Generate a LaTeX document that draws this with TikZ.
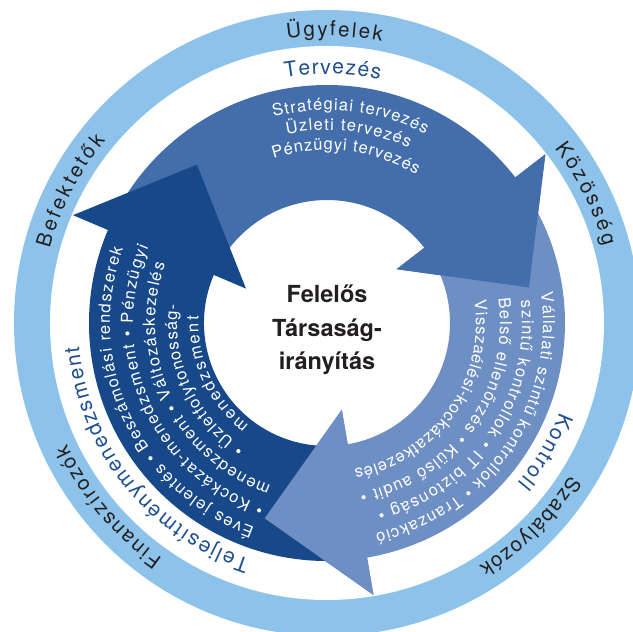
\documentclass[tikz,border=0pt]{standalone}
\usepackage{fontspec}
\setmainfont{TeX Gyre Heros}
\usetikzlibrary{decorations.text}
\definecolor{ringblue}{HTML}{8DC3EA}
\definecolor{topblue}{HTML}{436EAB}
\definecolor{rightblue}{HTML}{6E8FC4}
\definecolor{darkblue}{HTML}{17498A}
\definecolor{labelblue}{HTML}{1D4F91}
\definecolor{inkdark}{HTML}{231F20}
% arrow: #1 tail angle, #2 head base angle, #3 tip angle, #4 style
\newcommand\CycArrow[4]{%
  \fill[#4] (#1:238) arc[start angle=#1, end angle=#2, radius=238]
     -- (#2:276) -- (#3:205) -- (#2:88) -- (#2:123)
     arc[start angle=#2, end angle=#1, radius=123] -- cycle;}
\newcommand\CycHead[3]{\fill[#3] (#1:276) -- (#2:205) -- (#1:88) -- cycle;}
% text on arc: #1 radius, #2 start, #3 end, #4 size, #5 colour, #6 text
\newcommand\ArcText[6]{%
  \path[decorate,decoration={text along path, text align={fit to path},
     text={|\color{#5}\fontsize{#4}{#4}\selectfont|#6}}]
     (#2:#1) arc[start angle=#2, end angle=#3, radius=#1];}
\begin{document}
\begin{tikzpicture}[x=1pt,y=1pt,
  topArrow/.style={fill=topblue},
  rightArrow/.style={fill=rightblue},
  darkArrow/.style={fill=darkblue},
  centertext/.style={font=\bfseries\fontsize{23.5}{23.5}\selectfont, text=inkdark, inner sep=0pt, anchor=base}]
\useasboundingbox (-327,-309) rectangle (306,323);
\fill[white] (-327,-309) rectangle (306,323);
\begin{scope}
  \clip (-327,-309) rectangle (306,323);
  \fill[ringblue] (0,0) circle[radius=313];
  \fill[white] (0,0) circle[radius=277];
\end{scope}
% arrows
\CycArrow{151}{37.7}{10}{topArrow}
\CycArrow{32}{-80.3}{-107.7}{rightArrow}
\CycArrow{-86}{-203}{-230.6}{darkArrow}
\CycHead{37.7}{10}{topArrow}
\CycHead{-80.3}{-107.7}{rightArrow}
% outer ring texts
\ArcText{287}{98}{79}{20.5}{inkdark}{Ügyfelek}
\ArcText{287}{37.5}{15.5}{20.5}{inkdark}{Közösség}
\ArcText{287}{-32}{-58}{20.5}{inkdark}{Szabályozók}
\ArcText{287}{-125}{-155}{20.5}{inkdark}{Finanszírozók}
\ArcText{287}{165}{140.5}{20.5}{inkdark}{Befektetők}
% labels
\ArcText{249}{99.7}{77.7}{21}{labelblue}{Tervezés}
\ArcText{249}{-21}{-40}{21}{labelblue}{Kontroll}
\ArcText{249}{-108}{-174.5}{21}{labelblue}{Teljesítménymenedzsment}
% top arrow text
\ArcText{213}{104.5}{62.5}{16.5}{white}{Stratégiai tervezés}
\ArcText{193}{102}{65}{16.5}{white}{Üzleti tervezés}
\ArcText{173}{108}{59}{16.5}{white}{Pénzügyi tervezés}
% right arrow text
\ArcText{216}{8}{-77}{16.5}{white}{Vállalati szintű kontrollok • Tranzakció}
\ArcText{195}{6.5}{-75}{16.5}{white}{szintű kontrollok • IT biztonság •}
\ArcText{173}{8}{-79}{16.5}{white}{Belső ellenőrzés • Külső audit •}
\ArcText{149}{8.5}{-79.5}{16.5}{white}{Visszaélési-kockázatkezelés}
% left arrow text
\ArcText{217}{-109.5}{-200}{16.5}{white}{Éves jelentés • Beszámolási rendszerek}
\ArcText{194}{-109}{-203}{16.5}{white}{• Kockázat-menedzsment • Pénzügyi}
\ArcText{172}{-109}{-200}{16.5}{white}{menedzsment • Változáskezelés}
\ArcText{150}{-123.5}{-187}{16.5}{white}{• Üzletfolytonosság-}
\ArcText{128.5}{-127.5}{-183}{16.5}{white}{menedzsment}
% centre
\node[centertext] (c1) at (0,20) {Felelős};
\node[centertext] (c2) at (0,-14) {Társaság-};
\node[centertext] (c3) at (0,-47) {irányítás};
\end{tikzpicture}
\end{document}
